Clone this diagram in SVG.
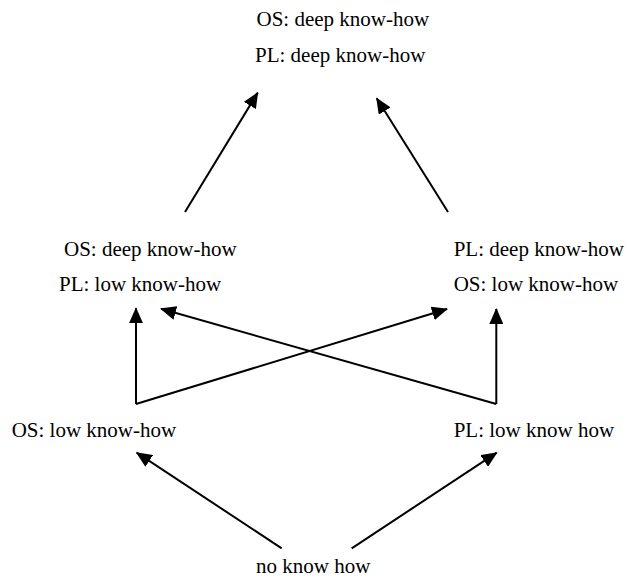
<svg xmlns="http://www.w3.org/2000/svg" width="627" height="580" viewBox="0 0 627 580">
<style>
text{font-family:'Liberation Serif','DejaVu Serif',serif;font-size:21px;fill:#000}
.c line{stroke:#000;stroke-width:2;marker-end:url(#ah)}
</style>
<defs>
<marker id="ah" markerUnits="userSpaceOnUse" markerWidth="16" markerHeight="14" viewBox="0 0 16 14" refX="15" refY="7" orient="auto">
<path d="M0,0 L16,7 L0,14 z" fill="#000"/>
</marker>
</defs>
<rect width="627" height="580" fill="#fff"/>
<g id="n-top">
<text x="256.5" y="25.7" font-family="Liberation Serif">OS: deep know-how</text>
<text x="255" y="62" font-family="Liberation Serif">PL: deep know-how</text>
</g>
<g id="n-midleft">
<text x="64" y="255.5" font-family="Liberation Serif">OS: deep know-how</text>
<text x="59" y="291" font-family="Liberation Serif">PL: low know-how</text>
</g>
<g id="n-midright">
<text x="453.7" y="255.5" font-family="Liberation Serif">PL: deep know-how</text>
<text x="453.7" y="291" font-family="Liberation Serif">OS: low know-how</text>
</g>
<g id="n-lowleft">
<text x="11.7" y="436.5" font-family="Liberation Serif">OS: low know-how</text>
</g>
<g id="n-lowright">
<text x="453.7" y="436.5" font-family="Liberation Serif">PL: low know how</text>
</g>
<g id="n-bottom">
<text x="256" y="573.3" font-family="Liberation Serif">no know how</text>
</g>
<g class="c" id="connectors">
<line x1="185" y1="212" x2="257.7" y2="92.7"/>
<line x1="448" y1="212" x2="376.7" y2="98.3"/>
<line x1="136" y1="404" x2="136" y2="308.3"/>
<line x1="136" y1="404" x2="447" y2="309"/>
<line x1="496.3" y1="404" x2="161" y2="308.8"/>
<line x1="496.3" y1="404" x2="496.3" y2="309"/>
<line x1="281.7" y1="548.3" x2="136.7" y2="452.7"/>
<line x1="351.7" y1="548.3" x2="496.7" y2="452.7"/>
</g>
</svg>
